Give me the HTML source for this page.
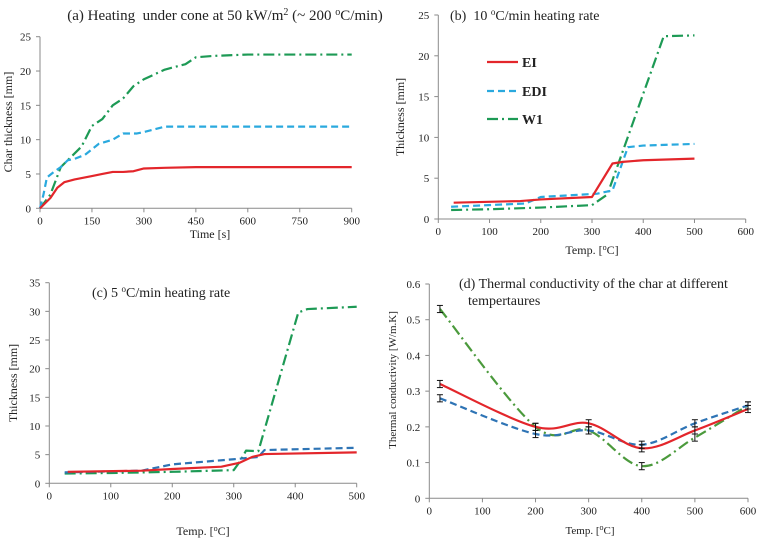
<!DOCTYPE html>
<html><head><meta charset="utf-8">
<style>
body{margin:0;background:#fff;}
svg{display:block;font-family:"Liberation Serif",serif;}
</style></head>
<body>
<svg id="chart" width="759" height="541" viewBox="0 0 759 541"></svg>
<script>
// (a) cone heating
const aEIx=[0,10,30,50,70,100,150,180,210,240,270,300,360,450,900];
const aEIy=[0,0.5,1.5,3,3.8,4.2,4.7,5,5.3,5.3,5.4,5.8,5.9,6,6];
const aEDIx=[0,10,20,40,60,80,100,130,170,210,240,280,300,360,900];
const aEDIy=[0,2,4.5,5.3,6,7,7.2,7.8,9.4,10,10.9,10.9,11.1,11.9,11.9];
const aW1x=[0,30,60,90,120,150,180,210,240,270,300,360,420,450,500,600,900];
const aW1y=[0,2,6,7.5,9,12,13,15,16,17.8,18.8,20.2,21,22,22.2,22.4,22.4];
const aXticks=[0,150,300,450,600,750,900];
const aYticks=[0,5,10,15,20,25];
// (b) 10 C/min
const bEIx=[30,160,200,300,340,360,400,500];
const bEIy=[2,2.2,2.4,2.7,6.8,7,7.2,7.4];
const bEDIx=[25,170,200,310,340,370,400,500];
const bEDIy=[1.5,1.9,2.7,3.1,3.5,8.8,9,9.2];
const bW1x=[25,100,200,300,330,440,500];
const bW1y=[1.1,1.2,1.4,1.7,3,22.4,22.5];
const bXticks=[0,100,200,300,400,500,600];
const bYticks=[0,5,10,15,20,25];
// (c) 5 C/min
const cEIx=[30,150,200,280,310,330,350,500];
const cEIy=[2,2.2,2.5,2.9,3.6,4.6,5.1,5.4];
const cEDIx=[25,150,200,300,340,350,500];
const cEDIy=[1.9,2.2,3.3,4.2,4.6,5.8,6.2];
const cW1x=[25,100,200,300,310,320,340,405,420,500];
const cW1y=[1.7,1.8,2.0,2.3,3.8,5.7,5.6,29.8,30.4,30.8];
const cXticks=[0,100,200,300,400,500];
const cYticks=[0,5,10,15,20,25,30,35];
// (d) conductivity
const dTemps=[20,200,300,400,500,600];
const dEI=[0.32,0.20,0.21,0.14,0.19,0.25];
const dEDI=[0.28,0.18,0.19,0.15,0.21,0.26];
const dW1=[0.53,0.20,0.19,0.09,0.17,0.26];
const dXticks=[0,100,200,300,400,500,600];
const dYticks=[0,0.1,0.2,0.3,0.4,0.5,0.6];

const NS="http://www.w3.org/2000/svg";
const svg=document.getElementById('chart');
function mk(tag,attrs,parent){const e=document.createElementNS(NS,tag);for(const k in attrs)e.setAttribute(k,attrs[k]);(parent||svg).appendChild(e);return e;}
function txt(x,y,s,size,anchor,parent){const t=mk('text',{x:x,y:y,'font-size':size,'text-anchor':anchor||'middle',fill:'#222'},parent);t.textContent=s;return t;}

function panel(name,x0,x1,y0,y1,xmin,xmax,ymin,ymax,xt,yt,fmt){
  const g=mk('g',{});
  
  
  const sx=v=>x0+(v-xmin)/(xmax-xmin)*(x1-x0);
  const sy=v=>y0-(v-ymin)/(ymax-ymin)*(y0-y1);
  const ax=mk('line',{x1:x0,y1:y0,x2:x1,y2:y0,stroke:'#8a8a8a','stroke-width':1},g);
  
  
  const ay=mk('line',{x1:x0,y1:y0,x2:x0,y2:y1,stroke:'#8a8a8a','stroke-width':1},g);
  
  
  xt.forEach(v=>{mk('line',{x1:sx(v),y1:y0,x2:sx(v),y2:y0+4,stroke:'#8a8a8a'},g);
    const t=txt(sx(v),y0+16,String(v),11,'middle',g);
    
    });
  yt.forEach(v=>{mk('line',{x1:x0-4,y1:sy(v),x2:x0,y2:sy(v),stroke:'#8a8a8a'},g);
    const t=txt(x0-9,sy(v)+4,fmt?fmt(v):String(v),11,'end',g);
    
    });
  return {g,sx,sy};
}
function line(p,xs,ys,color,dash,nm,smooth){
  const pts=xs.map((x,i)=>[p.sx(x),p.sy(ys[i])]);
  let d='M'+pts[0][0]+','+pts[0][1];
  if(smooth){
    for(let i=0;i<pts.length-1;i++){
      const p0=pts[i-1]||pts[i],p1=pts[i],p2=pts[i+1],p3=pts[i+2]||p2;
      const c1=[p1[0]+(p2[0]-p0[0])/6,p1[1]+(p2[1]-p0[1])/6];
      const c2=[p2[0]-(p3[0]-p1[0])/6,p2[1]-(p3[1]-p1[1])/6];
      d+=' C'+c1[0]+','+c1[1]+' '+c2[0]+','+c2[1]+' '+p2[0]+','+p2[1];
    }
  } else pts.slice(1).forEach(q=>d+=' L'+q[0]+','+q[1]);
  const e=mk('path',{d:d,fill:'none',stroke:color,'stroke-width':2.2,'stroke-dasharray':dash||'none','stroke-linejoin':'round'},p.g);
  
  
}
const RED='#e3262b',LB='#2aa9de',GR='#1d9a55',DB='#2e74b5',OG='#4b9a3c';
const DASH='7,4',DD='11,4,2,4';

// (a)
const pa=panel('panel-a',40,351.7,208.3,36.7,0,900,0,25,aXticks,aYticks);
line(pa,aW1x,aW1y,GR,DD,'a-w1-line');
line(pa,aEDIx,aEDIy,LB,DASH,'a-edi-line');
line(pa,aEIx,aEIy,RED,null,'a-ei-line');
let t=txt(225,20,'',15,'middle');t.innerHTML='(a) Heating&#160; under cone at 50 kW/m<tspan font-size="10" dy="-5">2</tspan><tspan dy="5"> (~ 200 </tspan><tspan font-size="10" dy="-5">o</tspan><tspan dy="5">C/min)</tspan>';

t=txt(210,238,'Time [s]',12);
t=txt(0,0,'Char thickness [mm]',12);t.setAttribute('transform','translate(12,122) rotate(-90)');

// (b)
const pb=panel('panel-b',438.3,745.7,219,15,0,600,0,25,bXticks,bYticks);
line(pb,bW1x,bW1y,GR,DD,'b-w1-line');
line(pb,bEDIx,bEDIy,LB,DASH,'b-edi-line');
line(pb,bEIx,bEIy,RED,null,'b-ei-line');
t=txt(450,20,'',14,'start');t.innerHTML='(b)&#160; 10 <tspan font-size="9" dy="-5">o</tspan><tspan dy="5">C/min heating rate</tspan>';

t=txt(592,254,'',12);t.innerHTML='Temp. [<tspan font-size="8" dy="-4">o</tspan><tspan dy="4">C]</tspan>';

t=txt(0,0,'Thickness [mm]',12);t.setAttribute('transform','translate(404,117) rotate(-90)');
const leg=[['EI',RED,null,67],['EDI',LB,DASH,96],['W1',GR,DD,124]];
leg.forEach(l=>{const g=mk('g',{});
  mk('line',{x1:487,y1:l[3]-5,x2:518,y2:l[3]-5,stroke:l[1],'stroke-width':2.2,'stroke-dasharray':l[2]||'none'},g);
  const tt=txt(522,l[3],l[0],14,'start',g);tt.setAttribute('font-weight','bold');});

// (c)
const pc=panel('panel-c',49.3,356.7,483.3,282.7,0,500,0,35,cXticks,cYticks);
line(pc,cW1x,cW1y,GR,DD,'c-w1-line');
line(pc,cEDIx,cEDIy,DB,DASH,'c-edi-line');
line(pc,cEIx,cEIy,RED,null,'c-ei-line');
t=txt(92,297,'',14,'start');t.innerHTML='(c) 5 <tspan font-size="9" dy="-5">o</tspan><tspan dy="5">C/min heating rate</tspan>';

t=txt(203,535,'',12);t.innerHTML='Temp. [<tspan font-size="8" dy="-4">o</tspan><tspan dy="4">C]</tspan>';

t=txt(0,0,'Thickness [mm]',12);t.setAttribute('transform','translate(17,383) rotate(-90)');

// (d)
const pd=panel('panel-d',429.3,748,498.3,284,0,600,0,0.6,dXticks,dYticks,v=>String(+v.toFixed(1)));
line(pd,dTemps,dW1,OG,DD,'d-w1-line',true);
line(pd,dTemps,dEDI,DB,DASH,'d-edi-line',true);
line(pd,dTemps,dEI,RED,null,'d-ei-line',true);
[dEI,dEDI,dW1].forEach((arr,si)=>arr.forEach((v,i)=>{
  const x=pd.sx(dTemps[i]),e=0.01;const g=mk('g',{stroke:'#111','stroke-width':1},pd.g);
  
  mk('line',{x1:x,y1:pd.sy(v-e),x2:x,y2:pd.sy(v+e)},g);
  mk('line',{x1:x-3,y1:pd.sy(v-e),x2:x+3,y2:pd.sy(v-e)},g);
  mk('line',{x1:x-3,y1:pd.sy(v+e),x2:x+3,y2:pd.sy(v+e)},g);
}));
t=txt(459,288,'(d)  Thermal conductivity of the char at different',14,'start');

t=txt(468,305,'tempertaures',14,'start');

t=txt(590,534,'',11);t.innerHTML='Temp. [<tspan font-size="8" dy="-4">o</tspan><tspan dy="4">C]</tspan>';

t=txt(0,0,'Thermal conductivity [W/m.K]',11);t.setAttribute('transform','translate(396,380) rotate(-90)');
</script>
</body></html>
